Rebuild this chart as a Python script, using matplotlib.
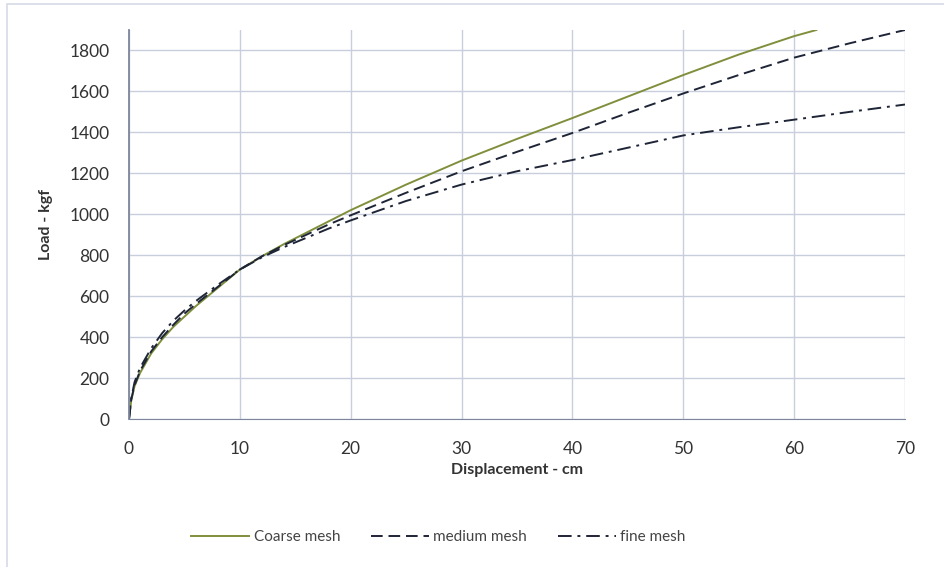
import matplotlib.pyplot as plt
from matplotlib.patches import Rectangle

# displacement (cm) vs load (kgf) for three mesh sizes
dispCoarse = [0, 0.2, 0.5, 1, 2, 3, 4, 5, 6, 8, 10, 12, 14, 16, 18, 20, 25, 30, 35, 40, 45, 50, 55, 60, 62]
coarse = [0, 90, 160, 225, 320, 390, 450, 500, 550, 640, 730, 795, 855, 910, 965, 1020, 1145, 1262, 1368, 1470, 1575, 1680, 1780, 1870, 1900]

disp = [0, 0.2, 0.5, 1, 2, 3, 4, 5, 6, 8, 10, 12, 14, 16, 18, 20, 25, 30, 35, 40, 45, 50, 55, 60, 65, 70]
medium = [0, 95, 165, 235, 330, 400, 460, 515, 560, 645, 730, 795, 850, 900, 950, 995, 1105, 1210, 1305, 1397, 1495, 1590, 1680, 1765, 1835, 1900]
fine = [0, 100, 180, 250, 345, 420, 480, 530, 575, 655, 730, 790, 840, 885, 930, 970, 1065, 1145, 1210, 1265, 1325, 1385, 1425, 1462, 1500, 1536]

xticks = [0, 10, 20, 30, 40, 50, 60, 70]
yticks = [0, 200, 400, 600, 800, 1000, 1200, 1400, 1600, 1800]

plt.rcParams['font.family'] = ['Lato', 'DejaVu Sans']

fig = plt.figure(figsize=(9.45, 5.67), dpi=100)
fig.patches.append(Rectangle((7 / 945, -0.01), 1.0, 1.0 - 4 / 567 + 0.01, transform=fig.transFigure,
                             fill=False, edgecolor="#d5dae6", linewidth=1.2))
ax = fig.add_axes([129 / 945, 1 - 419 / 567, (905 - 129) / 945, (419 - 30) / 567])

ax.plot(dispCoarse, coarse, color="#7f8f3c", linewidth=1.4, label="Coarse mesh")
ax.plot(disp, medium, color="#1e2536", linewidth=1.4, dashes=(6, 3), label="medium mesh")
ax.plot(disp, fine, color="#1e2536", linewidth=1.4, dashes=(7, 3, 1.5, 3), label="fine mesh")

ax.set_xlim(0, 70)
ax.set_ylim(0, 1900)
ax.set_xticks(xticks)
ax.set_yticks(yticks)
ax.grid(True, color="#c9cedd", linewidth=1)
ax.set_axisbelow(True)
for s in ["top", "right"]:
    ax.spines[s].set_visible(False)
ax.spines["left"].set_color("#7d869c")
ax.spines["bottom"].set_color("#7d869c")
ax.spines["left"].set_linewidth(1.3)
ax.tick_params(length=0, labelsize=12.5, colors="#333333")
ax.tick_params(axis="y", pad=14)
ax.tick_params(axis="x", pad=16)

ax.set_xlabel("Displacement - cm", fontsize=11.5, fontweight="bold", color="#333333", labelpad=4)
ax.set_ylabel("Load - kgf", fontsize=11.5, fontweight="bold", color="#333333", labelpad=12)

fig.legend(loc="center", bbox_to_anchor=(0.464, 1 - 537 / 567), ncol=3, frameon=False,
           fontsize=11, handlelength=3.8, handletextpad=0.3, columnspacing=2.0, labelcolor="#444444")

plt.savefig("out.png", dpi=100)
